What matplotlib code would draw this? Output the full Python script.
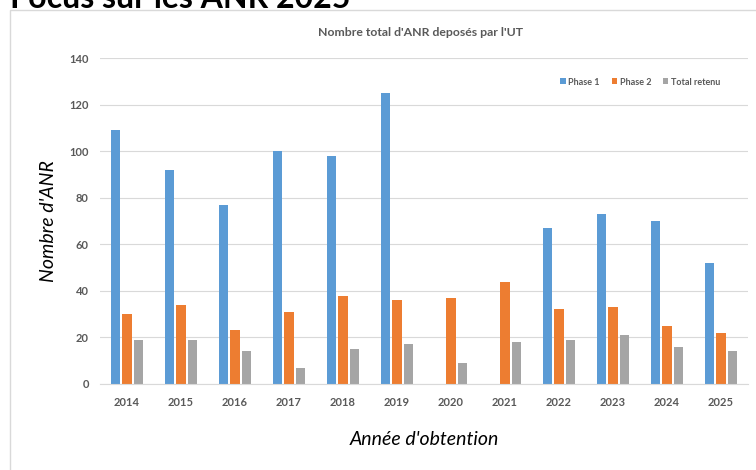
import matplotlib.pyplot as plt
import numpy as np
from matplotlib.patches import Rectangle

years = ['2014', '2015', '2016', '2017', '2018', '2019',
         '2020', '2021', '2022', '2023', '2024', '2025']
phase1 = [109, 92, 77, 100, 98, 125, 0, 0, 67, 73, 70, 52]
phase2 = [30, 34, 23, 31, 38, 36, 37, 44, 32, 33, 25, 22]
retenu = [19, 19, 14, 7, 15, 17, 9, 18, 19, 21, 16, 14]

plt.rcParams['font.family'] = ['Lato', 'DejaVu Sans']
grey_txt = '#595959'

fig = plt.figure(figsize=(7.56, 4.70), dpi=100)

# chart frame (runs off the right and bottom edges)
fig.patches.append(Rectangle((10 / 756, -0.1), 1.0, 1 - 10 / 470 + 0.1,
                             transform=fig.transFigure, fill=False,
                             edgecolor='#d9d9d9', linewidth=1.0))

# page heading, mostly cut off at the top like in the screenshot
fig.text(10 / 756, 1 - 8 / 470, 'Focus sur les ANR 2025', fontsize=23,
         fontweight='bold', color='black', va='baseline', ha='left')

ax = fig.add_axes([100 / 756, 1 - 384 / 470, 648 / 756, (384 - 58) / 470])

x = np.arange(len(years))
w = 0.17
step = 0.215
ax.bar(x - step, phase1, w, color='#5B9BD5', label='Phase 1')
ax.bar(x, phase2, w, color='#ED7D31', label='Phase 2')
ax.bar(x + step, retenu, w, color='#A5A5A5', label='Total retenu')

ax.set_xlim(-0.5, len(years) - 0.5)
ax.set_ylim(0, 140)
ax.set_yticks(range(0, 141, 20))
ax.yaxis.grid(True, color='#d9d9d9', linewidth=0.8)
ax.set_axisbelow(True)
for s in ['top', 'right', 'left']:
    ax.spines[s].set_visible(False)
ax.spines['bottom'].set_color('#d9d9d9')
ax.tick_params(length=0)
ax.tick_params(axis='y', pad=8, labelsize=8, labelcolor=grey_txt)
ax.tick_params(axis='x', pad=9, labelsize=8, labelcolor=grey_txt)
ax.set_xticks(x)
ax.set_xticklabels(years)
for lab in ax.get_xticklabels() + ax.get_yticklabels():
    lab.set_fontweight('bold')

ax.set_ylabel("Nombre d'ANR", fontsize=14, style='italic', labelpad=9)
ax.set_xlabel("Année d'obtention", fontsize=14, style='italic', labelpad=17)

fig.text(420 / 756, 1 - 32 / 470, "Nombre total d'ANR deposés par l'UT",
         fontsize=8.8, fontweight='bold', color=grey_txt, ha='center',
         va='center')

leg = ax.legend(loc='upper right', bbox_to_anchor=(0.97, 0.965), ncol=3,
                frameon=False, fontsize=6.5, handlelength=0.6,
                handleheight=0.6, handletextpad=0.3, columnspacing=1.3)
for t in leg.get_texts():
    t.set_fontweight('bold')
    t.set_color(grey_txt)

fig.savefig('out.png', dpi=100)
